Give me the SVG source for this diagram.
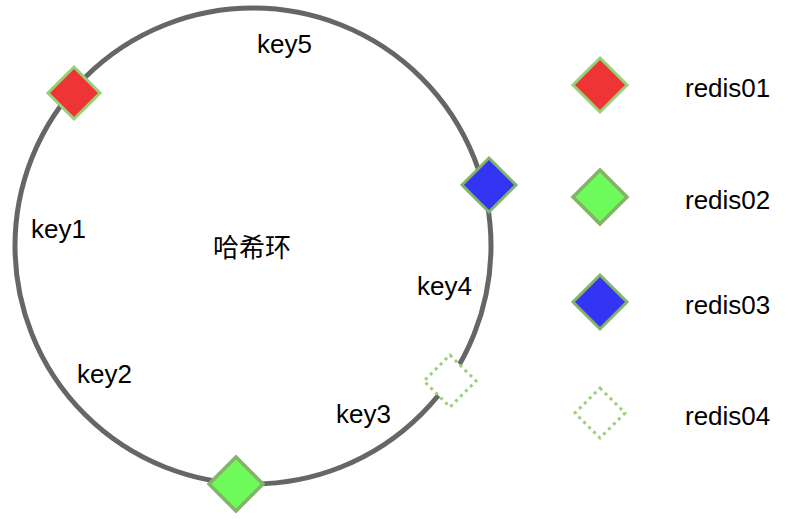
<svg xmlns="http://www.w3.org/2000/svg" width="804" height="520" viewBox="0 0 804 520">
<style>
.t{font-family:"Liberation Sans",Arial,sans-serif;font-size:26px;fill:#000}
.c{font-family:"Noto Sans CJK SC","Liberation Sans",sans-serif;font-size:26px;fill:#000}
.ring{fill:none;stroke:#666666;stroke-width:5}
.r{fill:#EE3434;stroke:#97D077;stroke-width:3}
.g{fill:#6EFA5A;stroke:#82B366;stroke-width:3.5}
.b{fill:#3434F5;stroke:#82B366;stroke-width:3}
.d{fill:#ffffff;stroke:#97D077;stroke-width:3;stroke-dasharray:3 4}
</style>
<rect width="804" height="520" fill="#ffffff"/>
<g id="ring"><circle class="ring" cx="253" cy="246" r="238"/></g>
<g id="connectors"></g>
<g id="node-redis01-ring"><polygon class="r" points="74,67 100,93 74,119 48,93"/></g>
<g id="node-redis03-ring"><polygon class="b" points="489,158 516,185 489,212 462,185"/></g>
<g id="node-redis04-ring"><polygon class="d" points="450,355 476,381 450,407 424,381"/></g>
<g id="node-redis02-ring"><polygon class="g" points="236,457 263,484 236,511 209,484"/></g>
<g id="labels">
<text class="t" x="257" y="53">key5</text>
<text class="t" x="31" y="238">key1</text>
<text class="c" x="213" y="257">哈希环</text>
<text class="t" x="417" y="295">key4</text>
<text class="t" x="77" y="383">key2</text>
<text class="t" x="336" y="423">key3</text>
</g>
<g id="legend-redis01"><polygon class="r" points="600,58 627,85 600,112 573,85"/><text class="t" x="685" y="97">redis01</text></g>
<g id="legend-redis02"><polygon class="g" points="600,170 627,197 600,224 573,197"/><text class="t" x="685" y="209">redis02</text></g>
<g id="legend-redis03"><polygon class="b" points="600,275 627,302 600,329 573,302"/><text class="t" x="685" y="314">redis03</text></g>
<g id="legend-redis04"><polygon class="d" points="600,388 625,413 600,438 575,413"/><text class="t" x="685" y="425">redis04</text></g>
</svg>
